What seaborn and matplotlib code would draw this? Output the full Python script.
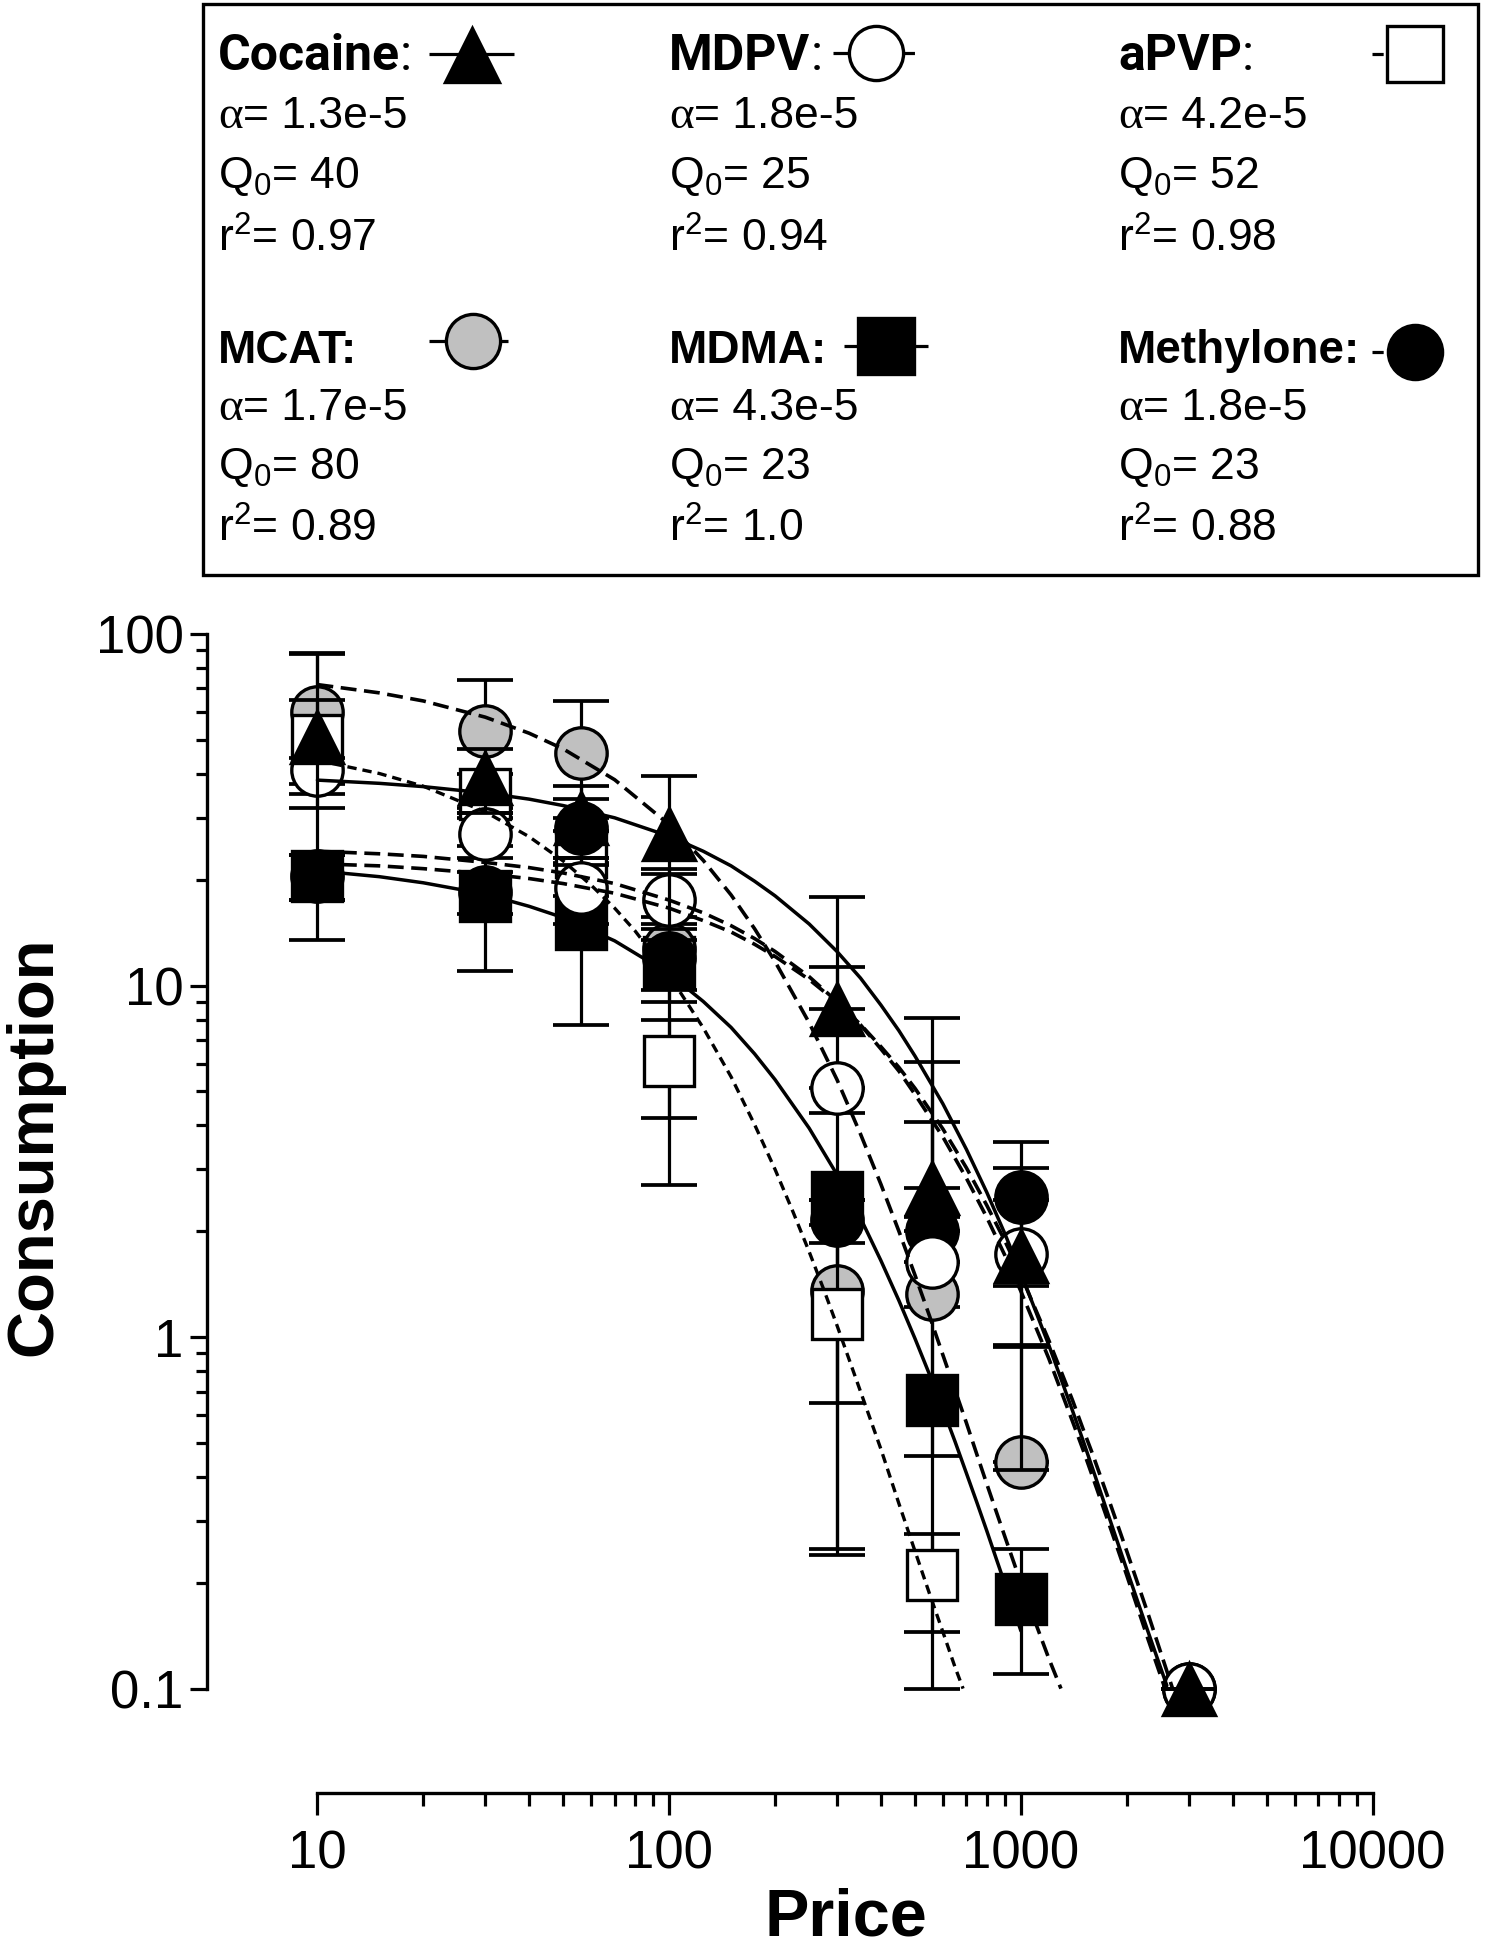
import numpy as np
import pandas as pd
import matplotlib
matplotlib.use("Agg")
import matplotlib.pyplot as plt
import seaborn as sns
from matplotlib.patches import Rectangle

# ---------------- data ----------------
price = [10, 30, 56, 100, 300, 560, 1000, 3000]

cocaine_mean = [51, 39, 30, 27, 8.6, 2.65, 1.7, 0.1]
cocaine_sem = [37.5, 8, 7, 12.5, 9.3, 5.45, 0.75, 0]
mdpv_mean = [41, 27, 19, 17.5, 5.1, 1.63, 1.72, 0.1]
mdpv_sem = [3.5, 4, 4, 4, 6.2, 2.47, 1.3, 0]
apvp_mean = [50, 35, 24, 6.1, 1.16, 0.21, np.nan, np.nan]
apvp_sem = [15, 5, 6, 1.9, 0.92, 0.065, np.nan, np.nan]
mcat_mean = [60, 53, 46, 12.7, 1.35, 1.33, 0.44, np.nan]
mcat_sem = [28, 21, 18.5, 3, 1.1, 0.87, 0.5, np.nan]
mdma_mean = [20.5, 18, 15, 11.7, 2.5, 0.66, 0.18, np.nan]
mdma_sem = [3, 7, 7.3, 9, 1.85, 0.56, 0.07, np.nan]
methylone_mean = [20.5, 18.5, 28, 12, 2.15, 2.0, 2.5, 0.1]
methylone_sem = [3, 2.5, 6, 3, 0.3, 4.05, 1.1, 0]

# fitted demand curves
cocaine_fit_x = [10, 15, 20, 30, 40, 50, 70, 100, 125, 150, 175, 200, 250, 300, 350, 400, 450, 500, 600, 700, 800, 900,
                 1000, 1200, 1400, 1500, 1600, 1800, 2000, 2300, 2600]
cocaine_fit_y = [38.4, 37.6, 36.8, 35.3, 33.9, 32.5, 30.0, 26.6, 24.1, 21.9, 19.8, 18.0, 14.97, 12.5, 10.5, 8.8, 7.44, 6.3,
                 4.61, 3.42, 2.58, 1.97, 1.52, 0.95, 0.62, 0.51, 0.422, 0.298, 0.218, 0.145, 0.102]
mdpv_fit_x = [10, 15, 20, 30, 40, 50, 70, 100, 125, 150, 175, 200, 250, 300, 350, 400, 450, 500, 600, 700, 800, 900,
              1000, 1200, 1400, 1500, 1600, 1800, 2000, 2300, 2570]
mdpv_fit_y = [24.1, 23.7, 23.3, 22.4, 21.65, 20.9, 19.5, 17.5, 16.1, 14.8, 13.6, 12.5, 10.6, 9.0, 7.73, 6.6, 5.71, 4.9,
              3.71, 2.83, 2.19, 1.71, 1.35, 0.87, 0.578, 0.48, 0.40, 0.285, 0.21, 0.138, 0.10]
methylone_fit_x = [10, 15, 20, 30, 40, 50, 70, 100, 125, 150, 175, 200, 250, 300, 350, 400, 450, 500, 600, 700, 800, 900,
                   1000, 1200, 1400, 1500, 1600, 1800, 2000, 2300, 2700]
methylone_fit_y = [22.2, 21.9, 21.5, 20.8, 20.15, 19.5, 18.3, 16.6, 15.3, 14.2, 13.1, 12.1, 10.4, 8.97, 7.75, 6.7, 5.85,
                   5.1, 3.91, 3.03, 2.37, 1.88, 1.50, 0.98, 0.664, 0.55, 0.464, 0.333, 0.246, 0.163, 0.10]
mcat_fit_x = [10, 15, 20, 30, 40, 50, 70, 100, 125, 150, 175, 200, 250, 300, 350, 400, 450, 500, 550, 600, 650, 700,
              750, 800, 850, 900, 1000, 1100, 1200, 1300]
mcat_fit_y = [71.8, 68.0, 64.5, 58.0, 52.2, 47.1, 38.5, 28.7, 22.7, 18.1, 14.5, 11.7, 7.84, 5.4, 3.78, 2.72, 2.0, 1.50,
              1.147, 0.89, 0.706, 0.57, 0.463, 0.382, 0.32, 0.271, 0.20, 0.154, 0.122, 0.10]
apvp_fit_x = [10, 15, 20, 30, 40, 50, 60, 70, 80, 100, 125, 150, 175, 200, 225, 250, 275, 300, 350, 400, 450, 500, 550,
              600, 650, 685]
apvp_fit_y = [43.7, 40.1, 36.9, 31.2, 26.5, 22.6, 19.3, 16.6, 14.3, 10.7, 7.58, 5.5, 4.02, 3.0, 2.27, 1.75, 1.367, 1.08,
              0.70, 0.48, 0.336, 0.246, 0.186, 0.145, 0.115, 0.10]
mdma_fit_x = [10, 15, 20, 30, 40, 50, 70, 100, 125, 150, 175, 200, 250, 300, 350, 400, 450, 500, 550, 600, 650, 700,
              750, 800, 850, 900, 950, 1000]
mdma_fit_y = [21.2, 20.4, 19.6, 18.2, 16.8, 15.6, 13.4, 10.8, 9.01, 7.6, 6.39, 5.4, 3.93, 2.9, 2.18, 1.65, 1.27, 0.99,
              0.782, 0.624, 0.504, 0.41, 0.338, 0.281, 0.235, 0.199, 0.17, 0.146]

# legend texts
names = ["Cocaine", "MDPV", "aPVP", "MCAT", "MDMA", "Methylone"]
alphas = ["1.3e-5", "1.8e-5", "4.2e-5", "1.7e-5", "4.3e-5", "1.8e-5"]
q0s = ["40", "25", "52", "80", "23", "23"]
r2s = ["0.97", "0.94", "0.98", "0.89", "1.0", "0.88"]

x_ticks = [10, 100, 1000, 10000]
x_ticklabels = ["10", "100", "1000", "10000"]
y_ticks = [0.1, 1, 10, 100]
y_ticklabels = ["0.1", "1", "10", "100"]

# ---------------- style ----------------
sns.set_theme(style="ticks")
plt.rcParams["font.family"] = ["Liberation Sans", "DejaVu Sans"]
plt.rcParams["mathtext.fontset"] = "custom"
plt.rcParams["mathtext.rm"] = "Liberation Sans"
plt.rcParams["mathtext.it"] = "Liberation Sans:italic"
plt.rcParams["mathtext.bf"] = "Liberation Sans:bold"

W, H = 1495, 1950
fig = plt.figure(figsize=(W / 100, H / 100), dpi=100)
fig.patch.set_facecolor("white")

ax = fig.add_axes([207 / W, 1 - 1793 / H, (1372.6 - 207) / W, (1793 - 634) / H])
ax.set_facecolor("none")
ax.set_xscale("log")
ax.set_yscale("log")
ax.set_xlim(10 ** 0.686, 1e4)
ax.set_ylim(10 ** -1.297, 100)

GRAY = "#c0c0c0"
DASH = (0, (4.4, 2.1))
DOT = (0, (2.8, 1.8))

series = [
    ("MDMA", mdma_mean, mdma_sem, "s", "black", mdma_fit_x, mdma_fit_y, "-", 2.5),
    ("MCAT", mcat_mean, mcat_sem, "o", GRAY, mcat_fit_x, mcat_fit_y, DASH, 2.6),
    ("aPVP", apvp_mean, apvp_sem, "s", "white", apvp_fit_x, apvp_fit_y, DOT, 2.4),
    ("Methylone", methylone_mean, methylone_sem, "o", "black", methylone_fit_x, methylone_fit_y, DASH, 2.6),
    ("MDPV", mdpv_mean, mdpv_sem, "o", "white", mdpv_fit_x, mdpv_fit_y, DASH, 2.6),
    ("Cocaine", cocaine_mean, cocaine_sem, "^", "black", cocaine_fit_x, cocaine_fit_y, "-", 2.5),
]

msize = {"o": 37, "s": 36, "^": 37}

for i, (name, mean, sem, mk, fc, fxs, fys, ls, lw) in enumerate(series):
    m = np.array(mean, dtype=float)
    s = np.array(sem, dtype=float)
    lo = np.where(m - s > 0, s, 0.0)
    z = 3 + 2 * i
    cont = ax.errorbar(price, m, yerr=[lo, s], fmt="none", ecolor="black",
                       elinewidth=2.3, capsize=20, capthick=2.7, zorder=z)
    for art in list(cont.lines[1]) + list(cont.lines[2]):
        art.set_clip_on(False)
    ax.plot(price, m, linestyle="none", marker=mk, ms=msize[mk], mfc=fc,
            mec="black", mew=2.4, zorder=z + 1, clip_on=False)

for i, (name, mean, sem, mk, fc, fxs, fys, ls, lw) in enumerate(series):
    df = pd.DataFrame({"Price": fxs, "Consumption": fys})
    sns.lineplot(data=df, x="Price", y="Consumption", ax=ax, color="black",
                 linewidth=lw, linestyle=ls, sort=False, estimator=None,
                 legend=False, zorder=30)
for ln in ax.lines:
    ln.set_clip_on(False)

# axes decoration
for side in ["top", "right"]:
    ax.spines[side].set_visible(False)
ax.spines["left"].set_bounds(0.1, 100)
ax.spines["bottom"].set_bounds(10, 10000)
for side in ["left", "bottom"]:
    ax.spines[side].set_linewidth(2.4)
    ax.spines[side].set_color("black")

ax.set_xticks(x_ticks)
ax.set_xticklabels(x_ticklabels)
ax.set_yticks(y_ticks)
ax.set_yticklabels(y_ticklabels)
ax.set_xticks([m_ * 10 ** e for e in range(1, 4) for m_ in range(2, 10)], minor=True)
ax.set_yticks([m_ * 10 ** e for e in range(-1, 2) for m_ in range(2, 10)], minor=True)
ax.xaxis.set_minor_formatter(matplotlib.ticker.NullFormatter())
ax.yaxis.set_minor_formatter(matplotlib.ticker.NullFormatter())
ax.tick_params(axis="both", which="both", direction="out", color="black",
               width=2.3, labelsize=38, labelcolor="black")
ax.tick_params(axis="x", which="major", length=16, pad=10)
ax.tick_params(axis="x", which="minor", length=9)
ax.tick_params(axis="y", which="major", length=12, pad=5)
ax.tick_params(axis="y", which="minor", length=8)
ax.set_xlabel("")
ax.set_ylabel("")

fig.text(34 / W, 1 - 1146 / H, "Consumption", rotation=90, ha="center", va="center",
         fontsize=47, fontweight="bold", color="black")
fig.text(846 / W, 1 - 1949 / H, "Price", ha="center", va="bottom",
         fontsize=48, fontweight="bold", color="black")

# ---------------- legend box ----------------
lax = fig.add_axes([0, 0, 1, 1], zorder=-1)
lax.set_xlim(0, W)
lax.set_ylim(H, 0)
lax.axis("off")
lax.add_patch(Rectangle((203, 4), 1275, 571, fill=False, lw=2.4, ec="black"))

renderer = fig.canvas.get_renderer()


def put(px, py, parts):
    """parts: list of (text, kwargs) written one after another on a baseline."""
    x = px
    for txt, kw in parts:
        t = fig.text(x / W, 1 - py / H, txt, va="baseline", ha="left",
                     color="black", **kw)
        bb = t.get_window_extent(renderer)
        x += bb.width


col_x = [218, 669, 1118, 218, 669, 1118]
base = [[70, 128, 188, 252]] * 3 + [[363, 420, 479, 542]] * 3
for k in range(6):
    bx = col_x[k]
    b = base[k]
    if k < 3:
        put(bx, b[0], [(names[k], dict(fontfamily="Roboto", fontweight="bold", fontsize=36)),
                       (":", dict(fontfamily="Roboto", fontsize=36))])
    else:
        put(bx, b[0], [(names[k] + ":", dict(fontweight="bold", fontsize=33))])
    put(bx, b[1], [("α", dict(fontfamily="Liberation Serif", fontsize=34)),
                   ("= " + alphas[k], dict(fontsize=32))])
    put(bx, b[2], [("Q$_0$= " + q0s[k], dict(fontsize=32))])
    put(bx, b[3], [("r$^2$= " + r2s[k], dict(fontsize=32))])

# legend sample glyphs: (line x0, x1, y, linestyle, marker, face, cx, cy)
samples = [
    (429, 514, 54, "-", "^", "black", 472, 55),
    (833, 917, 53, (0, (6.5, 12.5)), "o", "white", 876, 53),
    (1372, 1458, 54, (0, (3.5, 31)), "s", "white", 1415, 54),
    (429, 508, 341, "-", "o", GRAY, 473, 341),
    (844, 928, 346, "-", "s", "black", 886, 346),
    (1372, 1458, 352, (0, (3.5, 29)), "o", "black", 1415, 352),
]
for x0, x1, yy, ls, mk, fc, cx, cy in samples:
    lax.plot([x0, x1], [yy, yy], color="black", lw=2.3, linestyle=ls,
             solid_capstyle="butt", dash_capstyle="butt")
    lax.plot([cx], [cy], linestyle="none", marker=mk, ms=39 if mk != "s" else 40,
             mfc=fc, mec="black", mew=2.4)

fig.savefig("out.png", dpi=100, facecolor="white")
